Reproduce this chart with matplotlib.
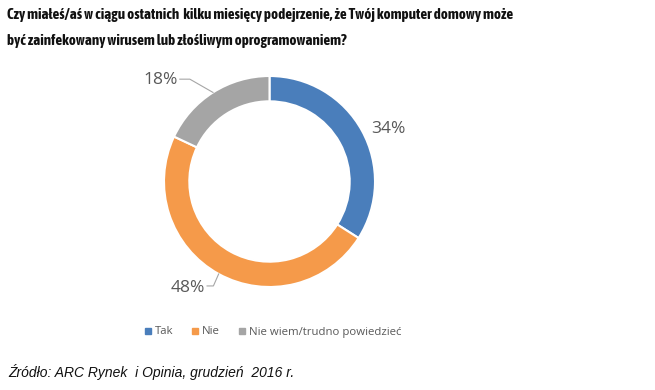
import numpy as np
import matplotlib
matplotlib.use("Agg")
import matplotlib.pyplot as plt
from matplotlib.lines import Line2D

categories = ["Tak", "Nie", "Nie wiem/trudno powiedzieć"]
values = [34, 48, 18]
colors = ["#4A7EBB", "#F59A4A", "#A5A5A5"]
title_lines = ["Czy miałeś/aś w ciągu ostatnich  kilku miesięcy podejrzenie, że Twój komputer domowy może",
               "być zainfekowany wirusem lub złośliwym oprogramowaniem?"]
source = "Źródło: ARC Rynek  i Opinia, grudzień  2016 r."

W, H = 655, 390
fig = plt.figure(figsize=(W / 100, H / 100), dpi=100)
fig.patch.set_facecolor("white")

cx, cy, R = 269.5, 181.5, 105.5
half = 1.1 * R
ax = fig.add_axes([(cx - half) / W, (H - cy - half) / H, 2 * half / W, 2 * half / H])

wedges, _ = ax.pie(values, colors=colors, startangle=90, counterclock=False,
                   radius=1.0, wedgeprops=dict(width=0.24, edgecolor="white", linewidth=1.5))
ax.set_xlim(-1.1, 1.1)
ax.set_ylim(-1.1, 1.1)
ax.set_aspect("equal")
ax.axis("off")

lab_col = "#595959"
font_lab = "Open Sans"
for i, w in enumerate(wedges):
    mid = np.deg2rad((w.theta1 + w.theta2) / 2)
    c, s = np.cos(mid), np.sin(mid)
    txt = f"{values[i]}%"
    if i == 0:
        ax.text(1.1 * c, 1.1 * s - 0.035, txt, ha="left", va="center", fontsize=12.5,
                color=lab_col, family=font_lab, clip_on=False)
    elif i == 1:
        p0 = (c, s)
        p1 = (c - 0.05, -0.99)
        p2 = (p1[0] - 0.06, p1[1])
        ax.plot([p0[0], p1[0], p2[0]], [p0[1], p1[1], p2[1]], color="#A6A6A6", lw=0.8,
                clip_on=False)
        ax.text(p2[0] - 0.02, p2[1] - 0.02, txt, ha="right", va="center", fontsize=12.5,
                color=lab_col, family=font_lab, clip_on=False)
    else:
        p0 = (c, s)
        p1 = (-0.755, 0.97)
        p2 = (-0.85, 0.97)
        ax.plot([p0[0], p1[0], p2[0]], [p0[1], p1[1], p2[1]], color="#A6A6A6", lw=0.8,
                clip_on=False)
        ax.text(p2[0] - 0.02, p2[1] - 0.01, txt, ha="right", va="center", fontsize=12.5,
                color=lab_col, family=font_lab, clip_on=False)

# title (narrow bold face, sized to the reference line width)
title_font = ["Asap Condensed", "Liberation Sans", "DejaVu Sans"]
renderer = fig.canvas.get_renderer()
t1 = fig.text(7 / W, 1 - 15 / H, title_lines[0], ha="left", va="center", fontsize=10.5,
              fontweight="bold", family=title_font, color="#111111")
wpx = t1.get_window_extent(renderer).width
fs = 10.5 * 506 / wpx
t1.set_fontsize(fs)
fig.text(7 / W, 1 - 41 / H, title_lines[1], ha="left", va="center", fontsize=fs,
         fontweight="bold", family=title_font, color="#111111")

# legend
handles = [Line2D([0], [0], marker="s", linestyle="none", markersize=4.5,
                  markerfacecolor=c, markeredgecolor=c) for c in colors]
leg = fig.legend(handles, categories, loc="center", bbox_to_anchor=(273 / W, 1 - 332 / H),
                 ncol=3, frameon=False, handlelength=0.6, handletextpad=0.3,
                 columnspacing=1.6, prop=dict(family="Open Sans", size=8.2))
for t in leg.get_texts():
    t.set_color(lab_col)

fig.text(8 / W, 1 - 372 / H, source, ha="left", va="center", fontsize=10,
         style="italic", family="Liberation Sans", color="#111111")

fig.savefig("out.png", dpi=100)
